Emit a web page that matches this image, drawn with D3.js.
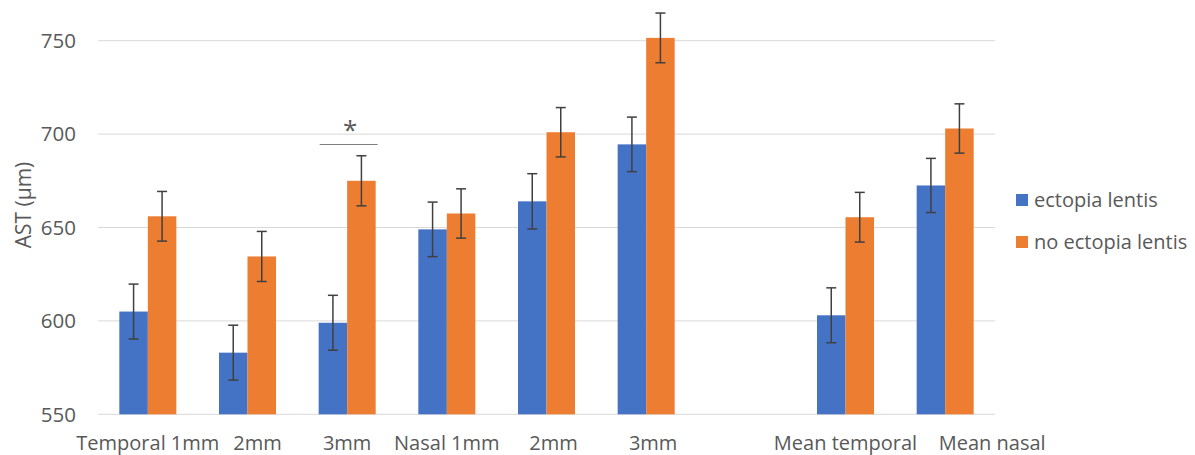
<!doctype html>
<html>
<head>
<title>AST by region</title>
<style type="text/css">
body { margin: 0; background: #fff; }
svg text { font-family: "Open Sans", sans-serif; fill: #595959; }
</style>
<script src="https://cdnjs.cloudflare.com/ajax/libs/d3/7.8.5/d3.min.js"></script>
</head>
<body>
<script type="text/javascript">
var width = 1195;
var height = 455;

// categories along x (the empty one is the spacer slot)
var categories = ["Temporal 1mm", "2mm", "3mm", "Nasal 1mm", "2mm", "3mm", "", "Mean temporal", "Mean nasal"];
var seriesNames = ["ectopia lentis", "no ectopia lentis"];
var seriesColors = ["#4472C4", "#ED7D31"];

// means, null where the slot is empty
var ectopia   = [605, 583, 599, 649, 664, 694.5, null, 603, 672.5];
var noEctopia = [656, 634.5, 675, 657.5, 701, 751.5, null, 655.5, 703];
// error bar half-widths
var ectopiaErr   = [14.7, 14.7, 14.7, 14.6, 14.8, 14.6, null, 14.7, 14.5];
var noEctopiaErr = [13.3, 13.4, 13.4, 13.2, 13.2, 13.3, null, 13.3, 13.2];

var yTicks = [550, 600, 650, 700, 750];

// horizontal nudges of the x labels, as placed in the original
var labelNudge = [0, 10, 0, 0, 7, 7, 0, 0, 47];

var plot = { left: 98, right: 995, top: 40.7, bottom: 414.3 };

var svg = d3.select("body").append("svg")
	.attr("width", width)
	.attr("height", height);

var x = d3.scaleBand()
	.domain(d3.range(categories.length))
	.range([plot.left, plot.right])
	.paddingInner(0.428)
	.paddingOuter(0.214);

var xs = d3.scaleBand()
	.domain([0, 1])
	.range([0, x.bandwidth()]);

var y = d3.scaleLinear()
	.domain([550, 750])
	.range([plot.bottom, plot.top]);

// gridlines
svg.append("g")
	.selectAll("line")
	.data(yTicks)
	.enter().append("line")
	.attr("x1", plot.left)
	.attr("x2", plot.right)
	.attr("y1", function(d) { return y(d); })
	.attr("y2", function(d) { return y(d); })
	.style("stroke", "#d9d9d9")
	.style("stroke-width", 1);

// y tick labels
svg.append("g")
	.selectAll("text")
	.data(yTicks)
	.enter().append("text")
	.attr("x", 76)
	.attr("y", function(d) { return y(d); })
	.attr("dy", "0.36em")
	.attr("text-anchor", "end")
	.style("font-size", "20.5px")
	.text(function(d) { return d; });

// y axis title
svg.append("text")
	.attr("transform", "translate(31,205) rotate(-90)")
	.attr("text-anchor", "middle")
	.style("font-size", "21px")
	.text("AST (\u03bcm)");

// bars + error bars per series
var series = [
	{ values: ectopia, err: ectopiaErr },
	{ values: noEctopia, err: noEctopiaErr }
];

series.forEach(function(s, si) {
	var rows = s.values.map(function(v, i) { return { i: i, v: v, e: s.err[i] }; })
		.filter(function(d) { return d.v !== null; });

	svg.append("g")
		.selectAll("rect")
		.data(rows)
		.enter().append("rect")
		.attr("x", function(d) { return x(d.i) + xs(si); })
		.attr("width", xs.bandwidth())
		.attr("y", function(d) { return y(d.v); })
		.attr("height", function(d) { return y(550) - y(d.v); })
		.style("fill", seriesColors[si]);

	var eb = svg.append("g")
		.selectAll("g")
		.data(rows)
		.enter().append("g")
		.style("stroke", "#404040")
		.style("stroke-width", 1.5);

	eb.append("line")
		.attr("x1", function(d) { return x(d.i) + xs(si) + xs.bandwidth() / 2; })
		.attr("x2", function(d) { return x(d.i) + xs(si) + xs.bandwidth() / 2; })
		.attr("y1", function(d) { return y(d.v - d.e); })
		.attr("y2", function(d) { return y(d.v + d.e); });

	[1, -1].forEach(function(sign) {
		eb.append("line")
			.attr("x1", function(d) { return x(d.i) + xs(si) + xs.bandwidth() / 2 - 5; })
			.attr("x2", function(d) { return x(d.i) + xs(si) + xs.bandwidth() / 2 + 5; })
			.attr("y1", function(d) { return y(d.v + sign * d.e); })
			.attr("y2", function(d) { return y(d.v + sign * d.e); });
	});
});

// x labels
svg.append("g")
	.selectAll("text")
	.data(categories)
	.enter().append("text")
	.attr("x", function(d, i) { return x(i) + x.bandwidth() / 2 + labelNudge[i]; })
	.attr("y", 450)
	.attr("text-anchor", "middle")
	.style("font-size", "20px")
	.text(function(d) { return d; });

// significance marker over 3mm temporal
var sig = 2;
svg.append("line")
	.attr("x1", x(sig) + 1)
	.attr("x2", x(sig) + x.bandwidth() + 2)
	.attr("y1", 144.5)
	.attr("y2", 144.5)
	.style("stroke", "#808080")
	.style("stroke-width", 1.2);
svg.append("text")
	.attr("x", x(sig) + x.bandwidth() / 2 + 3)
	.attr("y", 139)
	.attr("text-anchor", "middle")
	.style("font-size", "26px")
	.text("*");

// legend
var legend = svg.append("g")
	.selectAll("g")
	.data(seriesNames)
	.enter().append("g")
	.attr("transform", function(d, i) { return "translate(1016," + (200 + i * 42) + ")"; });

legend.append("rect")
	.attr("x", 0)
	.attr("y", -6)
	.attr("width", 12)
	.attr("height", 12)
	.style("fill", function(d, i) { return seriesColors[i]; });

legend.append("text")
	.attr("x", 18)
	.attr("y", 0)
	.attr("dy", "0.36em")
	.style("font-size", "20px")
	.text(function(d) { return d; });
</script>
</body>
</html>
